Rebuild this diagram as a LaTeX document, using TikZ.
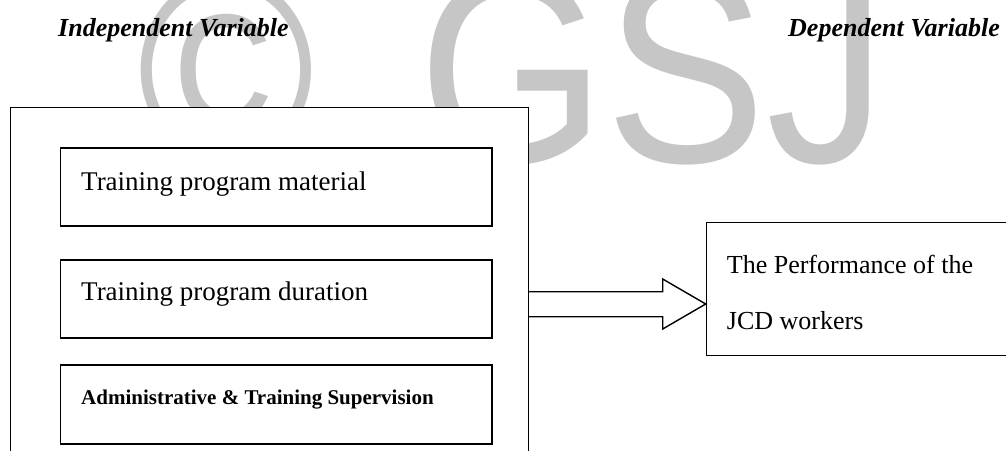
\documentclass[tikz,border=0pt]{standalone}
\usepackage{fontspec}
\setmainfont{Liberation Serif}
\newfontfamily\wmfont{Liberation Sans}
\definecolor{wmgray}{RGB}{198,198,198}
\begin{document}
\begin{tikzpicture}[x=1pt,y=-1pt,
  frame/.style={draw=black,line width=1.4pt,fill=white,inner sep=0pt,anchor=north west},
  itembox/.style={draw=black,line width=1.8pt,fill=white,inner sep=0pt,anchor=north west,minimum width=431.4pt,minimum height=78.5pt},
  lbl/.style={anchor=base west,inner sep=0pt,font=\fontsize{27}{32}\selectfont},
  head/.style={anchor=base west,inner sep=0pt,font=\fontsize{26}{30}\selectfont\bfseries\itshape},
  wm/.style={anchor=base west,inner sep=0pt,text=wmgray,font=\fontsize{268}{280}\wmfont,xscale=0.9}
]
\useasboundingbox[fill=white] (0,0) rectangle (1006,450);
% watermark
\node[wm] (wmc) at (137,162) {©};
\node[wm] (wmg) at (418,162) {GSJ};
% headers
\node[head] (hind) at (58,36) {Independent Variable};
\node[head] (hdep) at (788,36) {Dependent Variable};
% outer frame
\node[frame,minimum width=518pt,minimum height=370pt] (outer) at (9.8,106.5) {};
% items
\node[itembox] (b1) at (59.6,146.8) {};
\node[itembox] (b2) at (59.6,258.7) {};
\node[itembox] (b3) at (59.6,364.4) {};
\node[lbl] (t1) at (81,190) {Training program material};
\node[lbl] (t2) at (81,300.5) {Training program duration};
\node[lbl,font=\fontsize{21}{25}\selectfont\bfseries] (t3) at (81,404) {Administrative \& Training Supervision};
% dependent box
\node[frame,minimum width=320pt,minimum height=133.3pt] (dep) at (705.7,221.7) {};
\node[lbl,font=\fontsize{26}{30}\selectfont] (d1) at (726.7,273) {The Performance of the};
\node[lbl,font=\fontsize{26}{30}\selectfont] (d2) at (726.7,329) {JCD workers};
% block arrow
\coordinate (tip) at (dep.west |- 0,304);
\draw[line width=1.4pt,line join=miter,fill=white]
  (outer.east |- 0,291.7) -- (662.7,291.7) -- (662.7,279) -- (tip)
  -- (662.7,329) -- (662.7,316.7) -- (outer.east |- 0,316.7);
\end{tikzpicture}
\end{document}
